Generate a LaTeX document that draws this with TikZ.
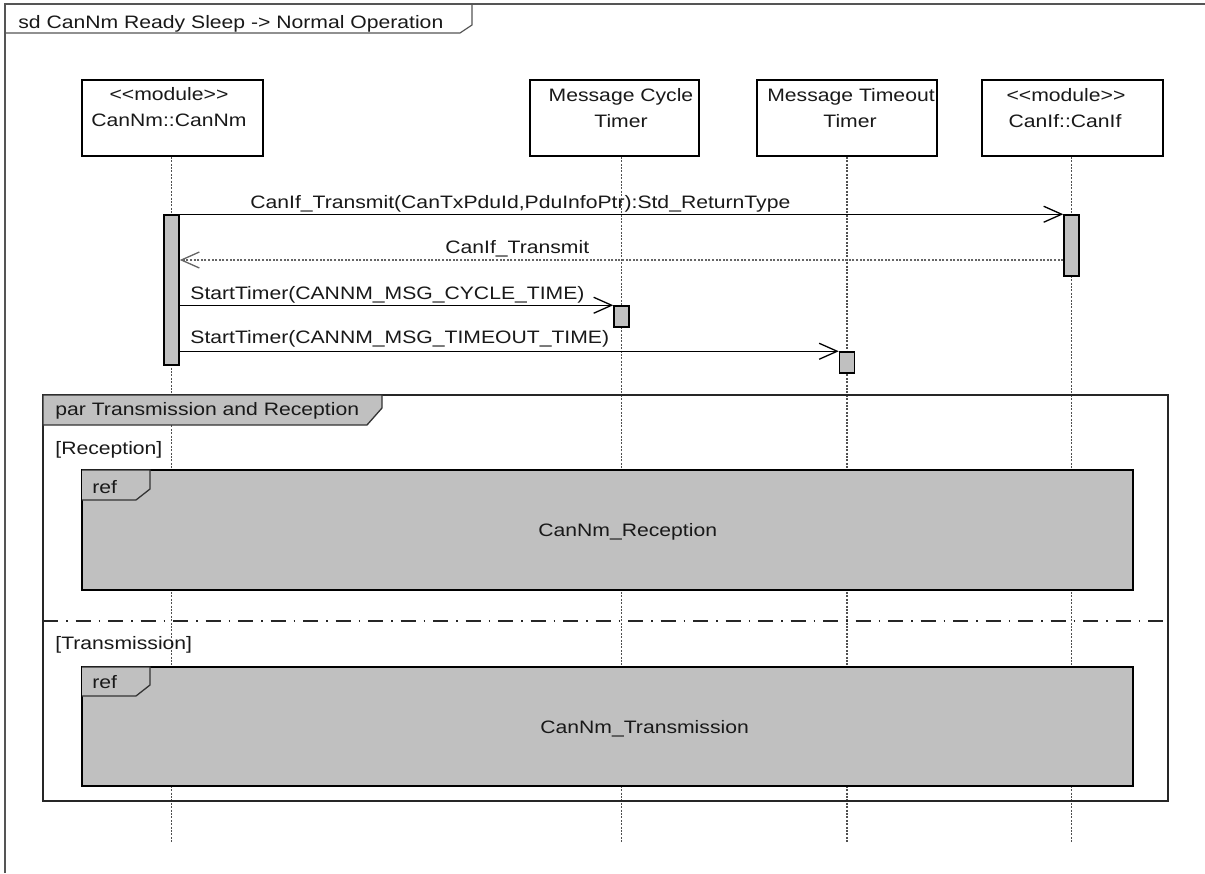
\documentclass[tikz,border=0pt]{standalone}
\usepackage{fontspec}
\setmainfont{Liberation Sans}[FakeStretch=1.175]
\usetikzlibrary{arrows.meta}

\definecolor{barfill}{RGB}{192,192,192}
\definecolor{framegray}{RGB}{85,85,85}
\definecolor{lifegray}{RGB}{80,80,80}

\tikzset{
  txt/.style={font=\fontsize{9}{13}\selectfont, inner sep=0pt, text=black!90},
  head/.style={draw=black, line width=0.8pt, fill=white, minimum height=38pt, inner sep=0pt},
  actbar/.style={draw=black, line width=0.75pt, fill=barfill, minimum width=7.5pt, inner sep=0pt},
  lifeline/.style={draw=lifegray, line width=0.85pt, dash pattern=on 1pt off 0.7pt},
  msg/.style={draw=black, line width=0.65pt, -{Straight Barb[length=9pt,width=8pt,line width=0.65pt]}},
  reply/.style={msg, draw=black!60, dash pattern=on 1pt off 0.8pt},
  refbox/.style={draw=black, line width=0.9pt, fill=barfill, minimum width=525.5pt, minimum height=60pt, inner sep=0pt},
  tabshape/.style={draw=black!80, line width=0.65pt, fill=barfill},
  altsep/.style={draw=black!85, line width=0.9pt, dash pattern=on 7.5pt off 4pt on 0.75pt off 4pt}
}

\begin{document}
\begin{tikzpicture}[x=0.5pt,y=-0.5pt]
\useasboundingbox (0,0) rectangle (1205,873);
\fill[white] (0,0) rectangle (1205,873);

% diagram frame and its name tab
\draw[framegray, line width=1.25pt] (5,873) -- (5,4) -- (1205,4);
\draw[framegray, line width=0.6pt] (5,33) -- (460,33) -- (472,25) -- (472,4);
\node[txt, anchor=base west] (title) at (18,28) {sd CanNm Ready Sleep -> Normal Operation};

% lifeline heads
\node[head, minimum width=90.5pt] (hNm) at (172.5,118) {};
\node[head, minimum width=84.5pt] (hCy) at (614.5,118) {};
\node[head, minimum width=90pt]   (hTo) at (847,118) {};
\node[head, minimum width=90.5pt] (hIf) at (1072.5,118) {};

\node[txt, anchor=base] (hNm1) at (169,100) {{<}{<}module{>}{>}};
\node[txt, anchor=base] (hNm2) at (169,126) {CanNm::CanNm};
\node[txt, anchor=base] (hCy1) at (621,101) {Message Cycle};
\node[txt, anchor=base] (hCy2) at (621,127) {Timer};
\node[txt, anchor=base] (hTo1) at (851,101) {Message Timeout};
\node[txt, anchor=base] (hTo2) at (850,127) {Timer};
\node[txt, anchor=base] (hIf1) at (1066,101) {{<}{<}module{>}{>}};
\node[txt, anchor=base] (hIf2) at (1065,127) {CanIf::CanIf};

% lifelines
\coordinate (llNm) at (171.5,843);
\coordinate (llCy) at (621.5,843);
\coordinate (llTo) at (847,843);
\coordinate (llIf) at (1071.5,843);
\draw[lifeline] (llNm |- hNm.south) -- (llNm);
\draw[lifeline] (llCy |- hCy.south) -- (llCy);
\draw[lifeline] (llTo |- hTo.south) -- (llTo);
\draw[lifeline] (llIf |- hIf.south) -- (llIf);

% activation bars
\node[actbar, minimum height=75pt]   (bNm) at (171.5,290) {};
\node[actbar, minimum height=30.5pt] (bIf) at (1071.5,245.5) {};
\node[actbar, minimum height=10.5pt] (bCy) at (621.5,316.5) {};
\node[actbar, minimum height=10.5pt] (bTo) at (847,362.5) {};

% messages
\coordinate (yRet) at (0,260);
\draw[msg] (bNm.east |- bIf.north) -- (bIf.north west);
\draw[reply] (bIf.west |- yRet) -- (bNm.east |- yRet);
\draw[msg] (bNm.east |- bCy.north) -- (bCy.north west);
\draw[msg] (bNm.east |- bTo.north) -- (bTo.north west);

\node[txt, anchor=base west] (m1) at (250,208) {CanIf\_Transmit(CanTxPduId,PduInfoPtr):Std\_ReturnType};
\node[txt, anchor=base west] (m2) at (445,253) {CanIf\_Transmit};
\node[txt, anchor=base west] (m3) at (190,299) {StartTimer(CANNM\_MSG\_CYCLE\_TIME)};
\node[txt, anchor=base west] (m4) at (190,343) {StartTimer(CANNM\_MSG\_TIMEOUT\_TIME)};

% par combined fragment
\draw[black!85, line width=0.9pt] (43,395) rectangle (1168,801);
\draw[tabshape] (43,395) -- (382,395) -- (382,408) -- (367,425) -- (43,425) -- cycle;
\node[txt, anchor=base west] (parlbl) at (55,415) {par Transmission and Reception};
\node[txt, anchor=base west] (g1) at (55,454) {[Reception]};
\draw[altsep] (43,621) -- (1168,621);
\node[txt, anchor=base west] (g2) at (55,649) {[Transmission]};

% interaction uses
\node[refbox] (ref1) at (607.5,530) {};
\draw[tabshape] (82,470) -- (150,470) -- (150,489) -- (136,500) -- (82,500);
\node[txt, anchor=base west] (ref1tag) at (92,493) {ref};
\node[txt, anchor=base west] (ref1lbl) at (538,536) {CanNm\_Reception};

\node[refbox, minimum height=59.5pt] (ref2) at (607.5,726.5) {};
\draw[tabshape] (82,667) -- (150,667) -- (150,685) -- (136,696) -- (82,696);
\node[txt, anchor=base west] (ref2tag) at (92,688) {ref};
\node[txt, anchor=base west] (ref2lbl) at (540,733) {CanNm\_Transmission};
\end{tikzpicture}
\end{document}
